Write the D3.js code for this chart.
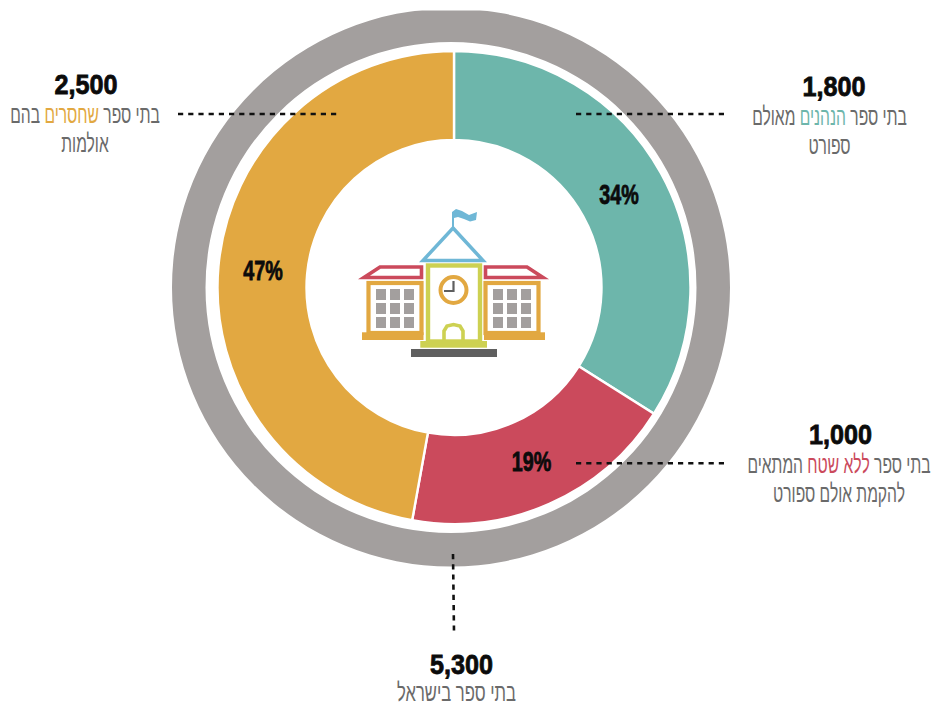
<!DOCTYPE html>
<html lang="he">
<head>
<meta charset="utf-8">
<script src="https://cdn.jsdelivr.net/npm/d3@7"></script>
<style>
  html, body { margin: 0; background: #fff; }
  svg { display: block; }
  .num { font-family: "Liberation Sans", sans-serif; font-weight: 700; fill: #0b0b0b; stroke: #0b0b0b; stroke-width: 0.8; }
  .sub { font-family: "Liberation Sans", "DejaVu Sans", sans-serif; font-size: 25px; fill: #6a6a6a; }
</style>
</head>
<body>
<svg id="chart" width="935" height="706"></svg>
<script>
// נתונים
const categories = ['הנהנים', 'ללא שטח', 'שחסרים'];
const values = [1800, 1000, 2500];
const colors = ['#6db6ab', '#cb4a5c', '#e2a841'];
const totalLabel = '5,300';
const pctLabels = ['34%', '19%', '47%'];
const numLabels = ['1,800', '1,000', '2,500'];

const W = 935, H = 706;
const cx = 454, cy = 287.5;
const svg = d3.select('#chart');

// טבעת חיצונית - חתוכה בחלק העליון כמו במקור
svg.append('defs').append('clipPath').attr('id', 'top-cut')
  .append('rect').attr('x', 0).attr('y', 10.5).attr('width', W).attr('height', H);

svg.append('g').attr('clip-path', 'url(#top-cut)')
  .append('path')
  .attr('transform', `translate(451,${cy})`)
  .attr('fill', '#a39f9e')
  .attr('d', d3.arc().innerRadius(245.5)
    .outerRadius(279).startAngle(0).endAngle(2 * Math.PI)());

// הדונאט
const pie = d3.pie().sort(null).value(d => d)(values);
const arc = d3.arc().innerRadius(147.5).outerRadius(236.5);
const g = svg.append('g').attr('transform', `translate(${cx},${cy})`);

g.selectAll('path').data(pie).join('path')
  .attr('d', arc)
  .attr('fill', (d, i) => colors[i])
  .attr('stroke', '#fff')
  .attr('stroke-width', 2.4);

// אחוזים
const pctPos = [[619, 195], [531.5, 462], [263, 270.5]];
svg.selectAll('.pct').data(pctLabels).join('text')
  .attr('class', 'num pct')
  .attr('transform', (d, i) => `translate(${pctPos[i][0]},${pctPos[i][1]}) scale(0.73,1)`)
  .attr('text-anchor', 'middle').attr('dy', '0.35em')
  .attr('font-size', 27)
  .text(d => d);

// קווים מקווקווים
const leaders = [[576, 114, 724, 114], [178, 114, 337, 114], [576, 463.3, 724, 463.3], [453, 554, 454, 632]];
svg.selectAll('.leader').data(leaders).join('line')
  .attr('class', 'leader')
  .attr('x1', d => d[0]).attr('y1', d => d[1])
  .attr('x2', d => d[2]).attr('y2', d => d[3])
  .attr('stroke', '#111').attr('stroke-width', 2.6).attr('stroke-dasharray', '5.2 5');

// תוויות
const labels = [
  { x: 834, y: 95.5, subX: 829.5, num: numLabels[0], lines: [[['בתי ספר '], [categories[0], colors[0]], [' מאולם']], [['ספורט']]] },
  { x: 86, y: 93.5, subX: 85, num: numLabels[2], lines: [[['בתי ספר '], [categories[2], colors[2]], [' בהם']], [['אולמות']]] },
  { x: 840.5, y: 444, subX: 839, num: numLabels[1], lines: [[['בתי ספר '], [categories[1], colors[1]], [' המתאים']], [['להקמת אולם ספורט']]] },
  { x: 461.5, y: 673.5, subX: 456.5, subScale: 0.665, num: totalLabel, gap: 27, lines: [[['בתי ספר בישראל']]] }
];

labels.forEach(l => {
  svg.append('text').attr('class', 'num')
    .attr('transform', `translate(${l.x},${l.y}) scale(0.9,1)`)
    .attr('text-anchor', 'middle').attr('font-size', 28).text(l.num);
  l.lines.forEach((runs, i) => {
    const t = svg.append('text').attr('class', 'sub')
      .attr('direction', 'rtl')
      .attr('transform', `translate(${l.subX},${l.y + (l.gap || 29) + i * 29}) scale(${l.subScale || 0.625},1)`)
      .attr('text-anchor', 'middle');
    runs.forEach(r => t.append('tspan').attr('fill', r[1] || null).text(r[0]));
  });
});

// אייקון בית הספר
const ic = svg.append('g').attr('class', 'icon');
const x = d3.scaleLinear().domain([0, 220]).range([340, 560]);
const y = d3.scaleLinear().domain([0, 175]).range([195, 370]);
const rect = (a, b, w, h, o) => ic.append('rect')
  .attr('x', x(a)).attr('y', y(b)).attr('width', w).attr('height', h).attr('fill', o.fill || 'none')
  .attr('stroke', o.stroke || null).attr('stroke-width', o.sw || null);
const poly = (pts, o) => ic.append('path')
  .attr('d', d3.line().x(p => x(p[0])).y(p => y(p[1]))(pts) + (o.open ? '' : 'Z'))
  .attr('fill', o.fill || 'none').attr('stroke', o.stroke || null).attr('stroke-width', o.sw || null)
  .attr('stroke-linejoin', 'miter');

const BLUE = '#6fb7d6', RED = colors[1], ORANGE = colors[2], LIME = '#cdd152', GREY = '#a39f9e', DARK = '#5f5f5f';

// דגל וגג
poly([[112, 33], [112, 17], [116, 14], [122, 16], [129, 20], [137, 17], [136, 25], [130, 26.5], [124, 24], [118, 22], [114, 23], [114, 33]], { fill: BLUE });
poly([[113, 33], [143, 65.5], [83, 65.5]], { stroke: BLUE, sw: 3.5 });
// גגות צד
poly([[81.5, 72], [40, 72], [24, 82.5], [81.5, 82.5]], { stroke: RED, sw: 3.6 });
poly([[145.5, 72], [187, 72], [203, 82.5], [145.5, 82.5]], { stroke: RED, sw: 3.6 });
// אגפים
rect(28.5, 88, 53, 50, { stroke: ORANGE, sw: 4.2 });
rect(145.5, 88, 53, 50, { stroke: ORANGE, sw: 4.2 });
rect(22, 137.3, 61.5, 7.7, { fill: ORANGE });
rect(144, 137.3, 61, 7.7, { fill: ORANGE });
[36, 50, 64].forEach(a => [94, 108, 122].forEach(b => rect(a, b, 10, 11, { fill: GREY })));
[153, 167, 181].forEach(a => [94, 108, 122].forEach(b => rect(a, b, 10, 11, { fill: GREY })));
// מגדל
rect(88, 70.5, 52, 76, { stroke: LIME, sw: 4.4 });
rect(80.3, 146, 66.7, 6.7, { fill: LIME });
poly([[104, 146], [104, 136], [107, 131], [113.5, 129.5], [120, 131], [123, 136], [123, 146]], { stroke: LIME, sw: 3.6, open: true });
// שעון
ic.append('circle').attr('cx', x(113.5)).attr('cy', y(95)).attr('r', 13).attr('fill', 'none').attr('stroke', ORANGE).attr('stroke-width', 4);
poly([[113.5, 86], [113.5, 96], [104, 96]], { stroke: DARK, sw: 2.2, open: true });
// בסיס
rect(71, 154, 86, 8, { fill: DARK });
</script>
</body>
</html>
